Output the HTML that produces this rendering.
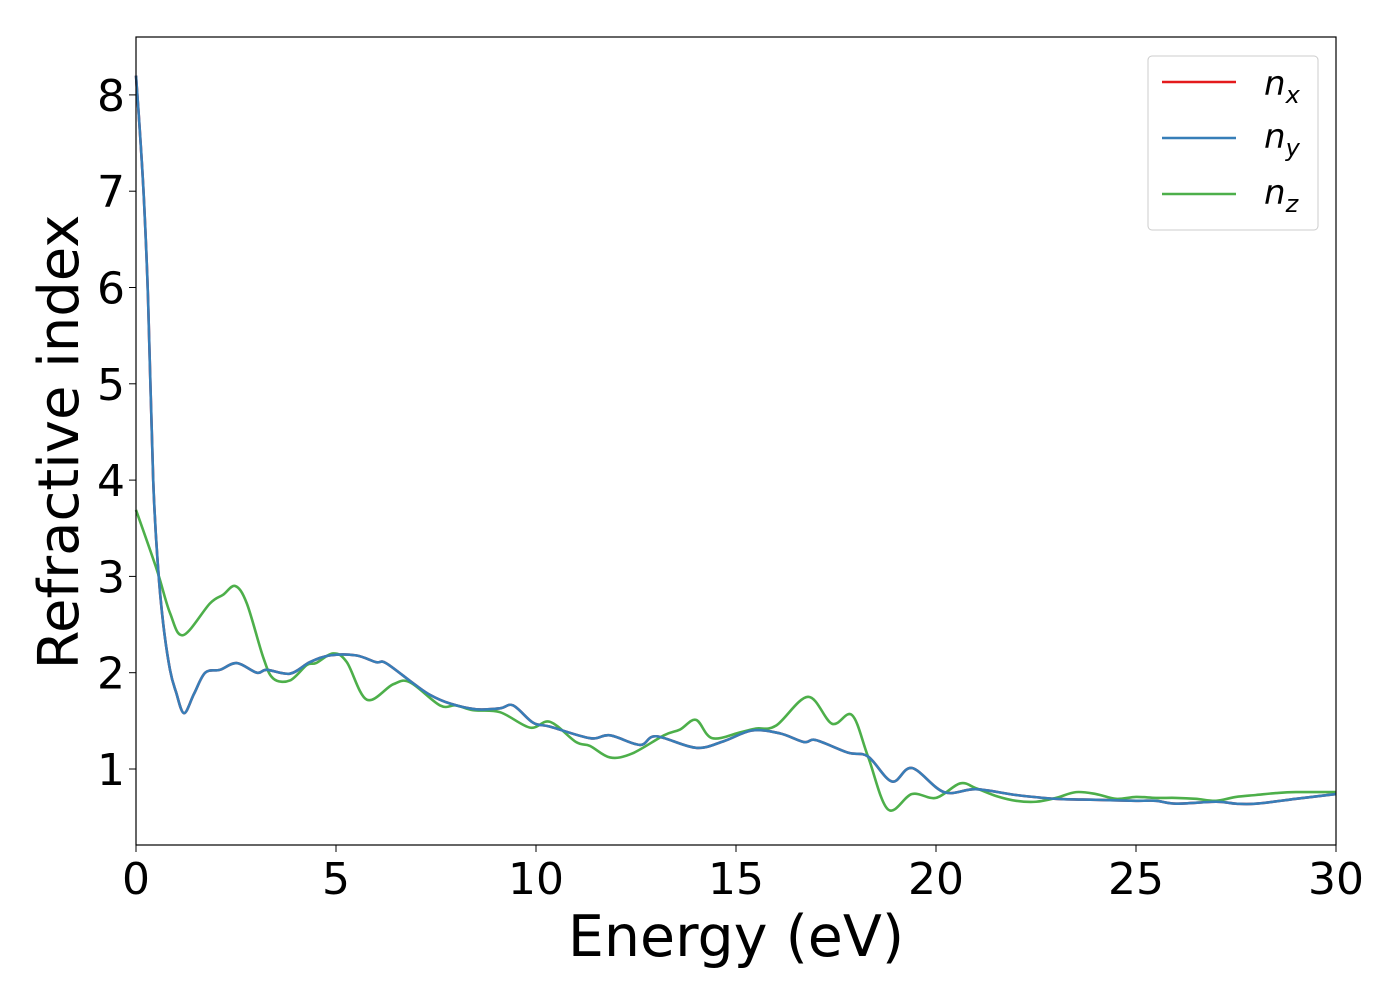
<!DOCTYPE html>
<html><head><meta charset="utf-8"><style>
body{margin:0;background:#fff;}
svg text{font-family:"DejaVu Sans","Liberation Sans",sans-serif;fill:#000;}
</style></head><body>
<svg id="chart" width="1400" height="1000" xmlns="http://www.w3.org/2000/svg">
<rect x="0" y="0" width="1400" height="1000" fill="#fff"/>
<g id="series"></g>
<rect x="136" y="37" width="1200" height="808" fill="none" stroke="#000" stroke-width="1.2"/>
<g id="xticks"></g><g id="yticks"></g>
<text x="736" y="956" font-size="57" text-anchor="middle">Energy (eV)</text>
<text x="78" y="442" font-size="56" text-anchor="middle" transform="rotate(-90 78 442)">Refractive index</text>
<g>
<rect x="1148" y="56" width="170" height="174" rx="4" fill="#fff" stroke="#ccc" stroke-width="1"/>
<g><line x1="1162" y1="82" x2="1236" y2="82" stroke="#e41a1c" stroke-width="2.5"/><text x="1264" y="95" font-size="34" font-style="italic">n<tspan font-size="24" dy="8">x</tspan></text></g>
<g><line x1="1162" y1="138" x2="1236" y2="138" stroke="#377eb8" stroke-width="2.5"/><text x="1264" y="148" font-size="34" font-style="italic">n<tspan font-size="24" dy="8">y</tspan></text></g>
<g><line x1="1162" y1="194" x2="1236" y2="194" stroke="#4daf4a" stroke-width="2.5"/><text x="1264" y="204" font-size="34" font-style="italic">n<tspan font-size="24" dy="8">z</tspan></text></g>
</g>
</svg>
<script>
const xTicks=[0,5,10,15,20,25,30];
const yTicks=[1,2,3,4,5,6,7,8];
const eBlue=[0,0.1,0.2,0.3,0.43,0.55,0.68,0.85,1.0,1.2,1.45,1.73,2.1,2.52,3.02,3.27,3.85,4.35,4.85,5.5,6.0,6.25,6.93,7.35,7.85,8.5,9.1,9.43,9.93,10.35,11.35,11.85,12.6,13.0,14.0,14.7,15.4,16.1,16.7,17.0,17.8,18.3,18.9,19.4,20.2,21,22,23,24,25,25.5,26,27,27.5,28,29,30];
const nx=[8.2,7.6,6.9,5.9,4.0,3.1,2.51,2.03,1.8,1.58,1.78,2.0,2.03,2.1,2.0,2.03,1.99,2.11,2.18,2.18,2.11,2.1,1.89,1.77,1.68,1.62,1.63,1.66,1.48,1.44,1.32,1.35,1.25,1.34,1.22,1.29,1.40,1.37,1.28,1.30,1.17,1.13,0.87,1.01,0.76,0.79,0.73,0.69,0.68,0.67,0.67,0.64,0.66,0.64,0.64,0.69,0.74];
const ny=[8.2,7.6,6.9,5.9,4.0,3.1,2.51,2.03,1.8,1.58,1.78,2.0,2.03,2.1,2.0,2.03,1.99,2.11,2.18,2.18,2.11,2.1,1.89,1.77,1.68,1.62,1.63,1.66,1.48,1.44,1.32,1.35,1.25,1.34,1.22,1.29,1.40,1.37,1.28,1.30,1.17,1.13,0.87,1.01,0.76,0.79,0.73,0.69,0.68,0.67,0.67,0.64,0.66,0.64,0.64,0.69,0.74];
const eGreen=[0,0.52,0.85,1.18,1.85,2.18,2.48,2.77,3.18,3.43,3.85,4.27,4.5,4.93,5.27,5.77,6.43,6.85,7.6,8.0,8.43,9.1,9.85,10.35,11.0,11.35,11.85,12.4,13.2,13.6,14.0,14.4,15.1,15.5,16.0,16.8,17.4,17.9,18.3,18.8,19.4,20.0,20.6,21,21.5,22,22.5,23,23.5,24,24.5,25,25.5,26,26.5,27,27.5,28,28.5,29,30];
const nz=[3.69,3.07,2.62,2.39,2.72,2.81,2.90,2.72,2.16,1.94,1.92,2.08,2.10,2.20,2.11,1.72,1.88,1.90,1.66,1.66,1.61,1.59,1.43,1.49,1.28,1.24,1.12,1.16,1.35,1.41,1.51,1.32,1.38,1.42,1.45,1.75,1.47,1.56,1.13,0.58,0.74,0.70,0.85,0.80,0.72,0.67,0.66,0.70,0.76,0.74,0.69,0.71,0.70,0.70,0.69,0.67,0.71,0.73,0.75,0.76,0.76];
const NS='http://www.w3.org/2000/svg';
const xs=v=>136+v*40;
const ys=v=>865.3-v*96.3;
function path(E,N){
  const p=E.map((e,i)=>[xs(e),ys(N[i])]);
  let d='M'+p[0][0]+','+p[0][1];
  for(let i=0;i<p.length-1;i++){
    const p0=p[Math.max(0,i-1)],p1=p[i],p2=p[i+1],p3=p[Math.min(p.length-1,i+2)];
    const c1=[p1[0]+(p2[0]-p0[0])/6,p1[1]+(p2[1]-p0[1])/6];
    const c2=[p2[0]-(p3[0]-p1[0])/6,p2[1]-(p3[1]-p1[1])/6];
    d+=' C'+c1.join(',')+' '+c2.join(',')+' '+p2.join(',');
  }
  return d;
}
const g=document.getElementById('series');
[[eBlue,nx,'#e41a1c','series-nx'],[eGreen,nz,'#4daf4a','series-nz'],[eBlue,ny,'#377eb8','series-ny']].forEach(s=>{
  const el=document.createElementNS(NS,'path');
  el.setAttribute('d',path(s[0],s[1]));
  el.setAttribute('fill','none');el.setAttribute('stroke',s[2]);el.setAttribute('stroke-width','2.6');
  
  
  g.appendChild(el);
});
const xt=document.getElementById('xticks');
xTicks.forEach(v=>{
  const l=document.createElementNS(NS,'line');
  l.setAttribute('x1',xs(v));l.setAttribute('x2',xs(v));l.setAttribute('y1',845);l.setAttribute('y2',852);l.setAttribute('stroke','#000');
  
  
  xt.appendChild(l);
  const t=document.createElementNS(NS,'text');
  t.setAttribute('x',xs(v));t.setAttribute('y',894);t.setAttribute('font-size','44');t.setAttribute('text-anchor','middle');
  t.textContent=v;
  
  
  xt.appendChild(t);
});
const yt=document.getElementById('yticks');
yTicks.forEach(v=>{
  const l=document.createElementNS(NS,'line');
  l.setAttribute('x1',129);l.setAttribute('x2',136);l.setAttribute('y1',ys(v));l.setAttribute('y2',ys(v));l.setAttribute('stroke','#000');
  
  
  yt.appendChild(l);
  const t=document.createElementNS(NS,'text');
  t.setAttribute('x',125);t.setAttribute('y',ys(v)+16);t.setAttribute('font-size','44');t.setAttribute('text-anchor','end');
  t.textContent=v;
  
  
  yt.appendChild(t);
});
</script>
</body></html>
